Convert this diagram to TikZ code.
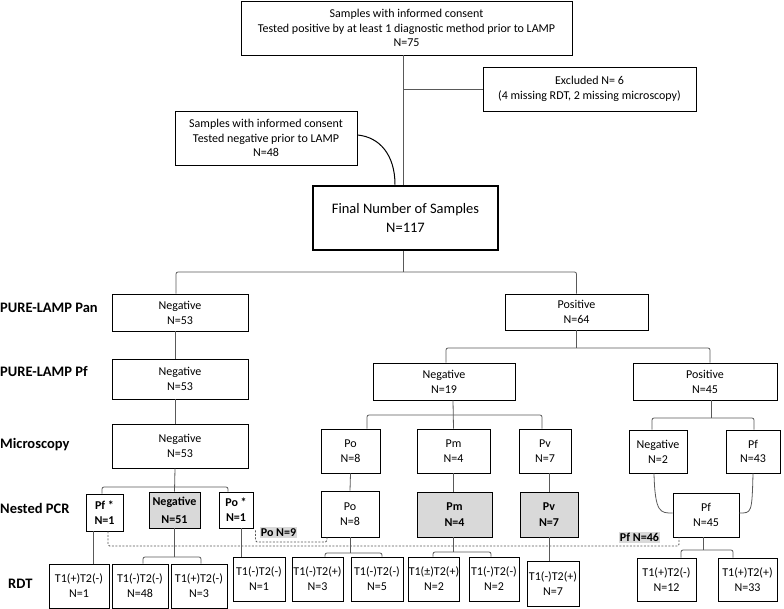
\documentclass[tikz,border=0pt]{standalone}
\usepackage{fontspec}
\setmainfont{Carlito}
\usetikzlibrary{calc}
\begin{document}
\begin{tikzpicture}[x=1pt,y=-1pt,
  box/.style={draw=black, line width=0.9pt, fill=white, align=center, inner sep=0pt, font=\fontsize{12}{14.8}\selectfont},
  bbox/.style={box, font=\bfseries\fontsize{12}{16}\selectfont},
  gbox/.style={bbox, fill=black!15},
  tag/.style={fill=black!15, inner xsep=1pt, inner ysep=0pt, minimum height=11.5pt, font=\bfseries\fontsize{12}{14}\selectfont},
  rowlbl/.style={anchor=west, inner sep=0pt, text height=9.3pt, text depth=0pt, font=\bfseries\fontsize{14.5}{17}\selectfont},
  conn/.style={draw=black!65, line width=0.8pt, rounded corners=2pt},
  curveline/.style={draw=black, line width=1pt},
  dashline/.style={draw=black!65, line width=0.8pt, dash pattern=on 2pt off 1.5pt, rounded corners=1.5pt}]
\useasboundingbox (0,0) rectangle (784,609);

% top section
\node[box, font=\fontsize{12}{14.5}\selectfont, minimum width=331pt, minimum height=54pt] (top) at (406.5,28) {Samples with informed consent\\Tested positive by at least 1 diagnostic method prior to LAMP\\N=75};
\node[box, minimum width=213pt, minimum height=44pt] (excl) at (589.5,89) {Excluded N= 6\\(4 missing RDT, 2 missing microscopy)};
\node[box, font=\fontsize{12}{14.5}\selectfont, minimum width=182pt, minimum height=54pt] (negsrc) at (266,138) {Samples with informed consent\\Tested negative prior to LAMP\\N=48};
\node[box, line width=2.6pt, font=\fontsize{14.5}{19}\selectfont, minimum width=185pt, minimum height=64pt] (final) at (405.5,218) {Final Number of Samples\\N=117};

% row labels
\node[rowlbl] (lpan) at (0,308) {PURE-LAMP Pan};
\node[rowlbl] (lpf) at (0,372) {PURE-LAMP Pf};
\node[rowlbl] (lmic) at (0,444) {Microscopy};
\node[rowlbl] (lpcr) at (0,509) {Nested PCR};
\node[rowlbl] (lrdt) at (8,584) {RDT};

% PURE-LAMP Pan
\node[box, minimum width=136pt, minimum height=37pt] (panneg) at (180,312.5) {Negative\\N=53};
\node[box, minimum width=143pt, minimum height=36pt] (panpos) at (576.5,312) {Positive\\N=64};

% PURE-LAMP Pf
\node[box, minimum width=136pt, minimum height=40pt] (pfneg) at (180,379) {Negative\\N=53};
\node[box, minimum width=142pt, minimum height=37pt] (pfneg19) at (444,381.5) {Negative\\N=19};
\node[box, minimum width=144pt, minimum height=37pt] (pfpos45) at (705,381.5) {Positive\\N=45};

% Microscopy
\node[box, minimum width=136pt, minimum height=44pt] (mneg) at (180,446) {Negative\\N=53};
\node[box, minimum width=59pt, minimum height=44pt] (mpo) at (350.5,451) {Po\\N=8};
\node[box, minimum width=73pt, minimum height=44pt] (mpm) at (453.5,451) {Pm\\N=4};
\node[box, minimum width=52pt, minimum height=44pt] (mpv) at (545,451) {Pv\\N=7};
\node[box, minimum width=58pt, minimum height=43pt] (mneg2) at (658,451.5) {Negative\\N=2};
\node[box, minimum width=54pt, minimum height=43pt] (mpf43) at (753,451.5) {Pf\\N=43};

% Nested PCR
\node[bbox, font=\bfseries\fontsize{12}{15}\selectfont, minimum width=37pt, minimum height=37pt] (pcrpf) at (104.5,512.5) {Pf *\\N=1};
\node[gbox, font=\bfseries\fontsize{12}{18}\selectfont, minimum width=51pt, minimum height=36pt] (pcrneg) at (174.5,510) {Negative\\N=51};
\node[bbox, font=\bfseries\fontsize{12}{15}\selectfont, minimum width=34pt, minimum height=36pt] (pcrpo1) at (236,510) {Po *\\N=1};
\node[box, minimum width=58pt, minimum height=46pt] (pcrpo) at (350,514) {Po\\N=8};
\node[gbox, minimum width=75pt, minimum height=45pt] (pcrpm) at (454.5,514.5) {Pm\\N=4};
\node[gbox, minimum width=58pt, minimum height=45pt] (pcrpv) at (549,514.5) {Pv\\N=7};
\node[box, minimum width=66pt, minimum height=44pt] (pcrpf45) at (706,515) {Pf\\N=45};

% RDT
\node[box, minimum width=60pt, minimum height=44pt] (r1) at (79,586) {T1(+)T2(-)\\N=1};
\node[box, minimum width=56pt, minimum height=44pt] (r2) at (140,586) {T1(-)T2(-)\\N=48};
\node[box, minimum width=56pt, minimum height=44pt] (r3) at (199,586) {T1(+)T2(-)\\N=3};
\node[box, minimum width=52pt, minimum height=44pt] (r4) at (259,579) {T1(-)T2(-)\\N=1};
\node[box, minimum width=51pt, minimum height=44pt] (r5) at (317.5,579) {T1(-)T2(+)\\N=3};
\node[box, minimum width=52pt, minimum height=44pt] (r6) at (377,579) {T1(-)T2(-)\\N=5};
\node[box, minimum width=50pt, minimum height=44pt] (r7) at (434,579) {T1(±)T2(+)\\N=2};
\node[box, minimum width=50pt, minimum height=44pt] (r8) at (494,579) {T1(-)T2(-)\\N=2};
\node[box, minimum width=52pt, minimum height=45pt] (r9) at (553,583.5) {T1(-)T2(+)\\N=7};
\node[box, minimum width=59pt, minimum height=43pt] (r10) at (666.5,579.5) {T1(+)T2(-)\\N=12};
\node[box, minimum width=59pt, minimum height=43pt] (r11) at (747.5,579.5) {T1(+)T2(+)\\N=33};

% tags
\node[tag] (po9) at (278.5,532.5) {Po N=9};
\node[tag] (pf46) at (639.5,537.5) {Pf N=46};

% connectors: top section
\coordinate (j1) at (403,89);
\draw[conn] (top.south -| j1) -- (final.north -| j1);
\draw[conn] (j1) -- (excl.west);
\draw[curveline] ($(negsrc.east)+(0,-3)$) .. controls +(22,2) and +(0,-30) .. ($(final.north)+(-10.5,0)$);

% final -> pan
\draw[conn] ($(final.south)+(-2.5,0)$) -- (403,272);
\draw[conn] ($(panneg.north)+(-4,0)$) |- (576.5,272) -- (panpos.north);

% left column
\draw[conn] ($(panneg.south)+(-5,0)$) -- ($(pfneg.north)+(-5,0)$);
\draw[conn] ($(pfneg.south)+(-5,0)$) -- ($(mneg.north)+(-5,0)$);
\draw[conn] ($(mneg.south)+(-5,0)$) -- (pcrneg.north);
\draw[conn] ($(pcrpf.north)+(-2.5,0)$) |- (228,487) -- ($(pcrpo1.north)+(-8,0)$);

% pan positive -> pf row
\draw[conn] (panpos.south) -- (576.5,348);
\draw[conn] ($(pfneg19.north)+(2,0)$) |- (710,348) -- ($(pfpos45.north)+(5,0)$);

% pf negative 19 -> microscopy
\draw[conn] ($(pfneg19.south)+(9,0)$) -- (mpm.north);
\draw[conn] ($(mpo.north)+(16.5,0)$) |- (542,415) -- ($(mpv.north)+(-3,0)$);

% pf positive 45 -> microscopy
\draw[conn] ($(pfpos45.south)+(6,0)$) -- (711,418);
\draw[conn] ($(mneg2.north)+(-6,0)$) |- (754,418) -- ($(mpf43.north)+(1,0)$);

% microscopy -> PCR
\draw[conn] (mpo.south) -- (pcrpo.north);
\draw[conn] (mpm.south) -- ($(pcrpm.north)+(-1,0)$);
\draw[conn] ($(mpv.south)+(4,0)$) -- (pcrpv.north);
\draw[conn] ($(mneg2.south)+(-4,0)$) .. controls +(1,40) and +(-12,0) .. ($(pcrpf45.west)+(0,-2)$);
\draw[conn] (mpf43.south) .. controls +(-1,40) and +(12,0) .. ($(pcrpf45.east)+(0,-2)$);

% PCR -> RDT
\draw[conn] ($(pcrpf.south)+(-11.5,0)$) -- ($(r1.north)+(14,0)$);
\draw[conn] (pcrneg.south) -- (174.5,557);
\draw[conn] ($(r2.north)+(3,0)$) |- (201,557) -- ($(r3.north)+(2,0)$);
\draw[conn] ($(pcrpo1.south)+(5,0)$) -- ($(r4.north)+(-18,0)$);
\draw[conn] (pcrpo.south) -- (350,553);
\draw[conn] ($(r5.north)+(7.5,0)$) |- (382,553) -- ($(r6.north)+(5,0)$);
\draw[conn] ($(pcrpm.south)+(-1.5,0)$) -- (453,552);
\draw[conn] ($(r7.north)+(-1,0)$) |- (491,552) -- ($(r8.north)+(-3,0)$);
\draw[conn] (pcrpv.south) -- ($(r9.north)+(-4,0)$);
\draw[conn] ($(pcrpf45.south)+(-3,0)$) -- (703,550);
\draw[conn] ($(r10.north)+(14.5,0)$) |- (733,550) -- ($(r11.north)+(-14.5,0)$);

% dashed
\draw[dashline] ($(pcrpf.south)+(3.5,0)$) |- (679,546) -- ($(pcrpf45.south)+(-27,0)$);
\draw[dashline] ($(pcrpo1.south east)+(2,2)$) |- (327,542) -- ($(pcrpo.south)+(-23,0)$);
\end{tikzpicture}
\end{document}
